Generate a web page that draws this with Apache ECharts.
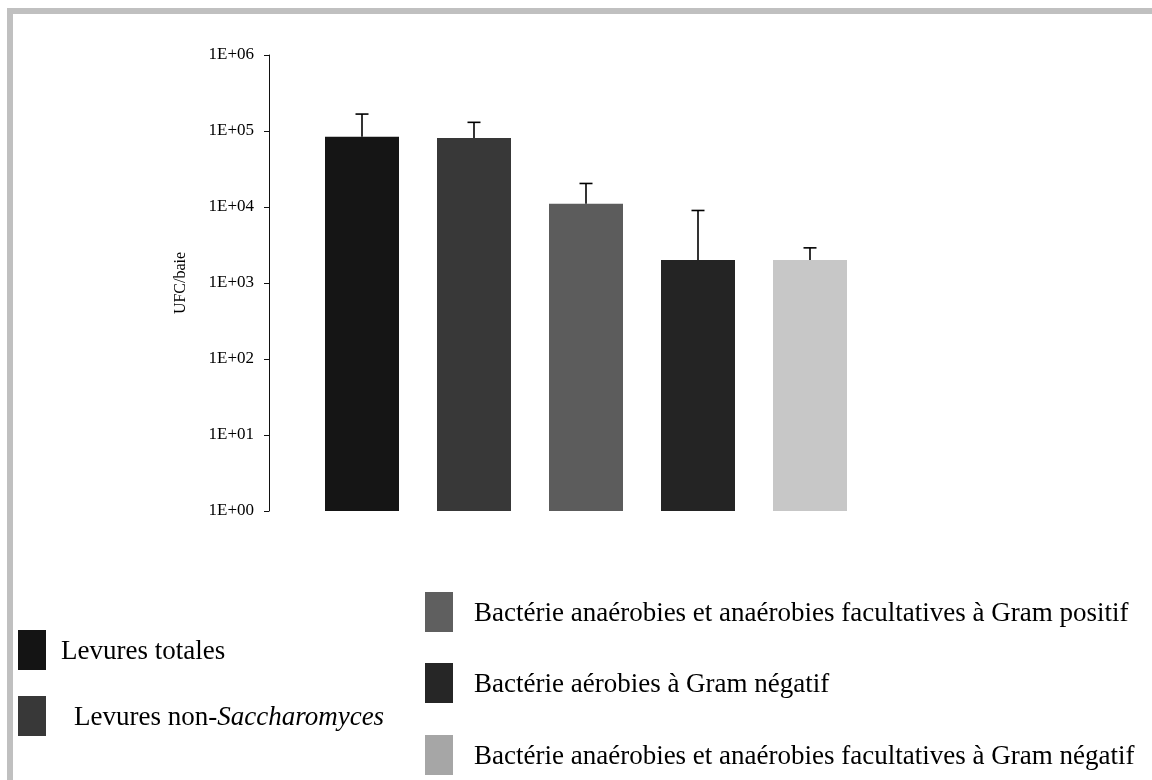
<!DOCTYPE html>
<html>
<head>
<meta charset="utf-8">
<script src="https://cdn.jsdelivr.net/npm/echarts@6/dist/echarts.min.js"></script>
<style>
  html, body { margin: 0; padding: 0; background: #fff; }
  #chart { width: 1152px; height: 780px; }
</style>
</head>
<body>
<div id="chart"></div>
<script>
// Microbial counts per berry (UFC/baie), log scale
const categories = [
  'Levures totales',
  'Levures non-Saccharomyces',
  'Bactérie anaérobies et anaérobies facultatives à Gram positif',
  'Bactérie aérobies à Gram négatif',
  'Bactérie anaérobies et anaérobies facultatives à Gram négatif'
];
const counts = [84000, 81000, 11000, 2000, 2000];
const errorPlus = [83000, 49000, 9400, 7000, 900];
const barColors = ['#151515', '#383838', '#5c5c5c', '#242424', '#c7c7c7'];
const legendColors = ['#141414', '#383838', '#5f5f5f', '#262626', '#a6a6a6'];
const yTickValues = [1, 10, 100, 1000, 10000, 100000, 1000000];
const yAxisTitle = 'UFC/baie';

const serif = "'Liberation Serif', 'Times New Roman', serif";

function sciLabel(v) {
  const e = Math.round(Math.log10(v));
  return '1E+' + String(e).padStart(2, '0');
}

// Legend entries laid out in two columns
const legendSlots = [
  { x: 18, y: 630, tx: 61 },
  { x: 18, y: 696, tx: 74 },
  { x: 425, y: 592, tx: 474 },
  { x: 425, y: 663, tx: 474 },
  { x: 425, y: 735, tx: 474 }
];

function legendText(name) {
  const m = name.match(/^(.*non-)(Saccharomyces)$/);
  if (m) return '{n|' + m[1] + '}{i|' + m[2] + '}';
  return '{n|' + name + '}';
}

const legendGraphics = [];
categories.forEach((name, i) => {
  const s = legendSlots[i];
  legendGraphics.push({
    type: 'rect',
    shape: { x: s.x, y: s.y, width: 28, height: 40 },
    style: { fill: legendColors[i] },
    silent: true
  });
  legendGraphics.push({
    type: 'text',
    x: s.tx,
    y: s.y + 22,
    style: {
      text: legendText(name),
      verticalAlign: 'middle',
      textAlign: 'left',
      fill: '#000',
      rich: {
        n: { fontFamily: serif, fontSize: 27, fill: '#000' },
        i: { fontFamily: serif, fontSize: 27, fontStyle: 'italic', fill: '#000' }
      }
    },
    silent: true
  });
});

const chart = echarts.init(document.getElementById('chart'), null, { renderer: 'canvas' });

chart.setOption({
  backgroundColor: '#ffffff',
  animation: false,
  grid: { left: 306, top: 55, width: 560, height: 456, containLabel: false },
  xAxis: {
    type: 'category',
    data: categories,
    show: false
  },
  yAxis: {
    type: 'log',
    logBase: 10,
    min: yTickValues[0],
    max: yTickValues[yTickValues.length - 1],
    offset: 37,
    name: yAxisTitle,
    nameLocation: 'middle',
    nameGap: 80,
    nameTextStyle: { fontFamily: serif, fontSize: 16, color: '#000' },
    axisLine: { show: true, lineStyle: { color: '#111', width: 1 } },
    axisTick: { show: true, inside: false, length: 5, lineStyle: { color: '#111' } },
    axisLabel: {
      margin: 15,
      fontFamily: serif,
      fontSize: 17,
      color: '#000',
      formatter: sciLabel
    },
    splitLine: { show: false }
  },
  series: [
    {
      type: 'bar',
      barWidth: 74,
      data: counts.map((v, i) => ({ value: v, itemStyle: { color: barColors[i] } })),
      z: 2
    },
    {
      // upper error bars (mean + standard deviation)
      type: 'custom',
      z: 3,
      data: counts.map((v, i) => [i, v, v + errorPlus[i]]),
      renderItem: function (params, api) {
        const base = api.coord([api.value(0), api.value(1)]);
        const top = api.coord([api.value(0), api.value(2)]);
        const half = 6.5;
        const st = { stroke: '#000', lineWidth: 1.6 };
        return {
          type: 'group',
          children: [
            { type: 'line', shape: { x1: base[0], y1: base[1], x2: top[0], y2: top[1] }, style: st },
            { type: 'line', shape: { x1: top[0] - half, y1: top[1], x2: top[0] + half, y2: top[1] }, style: st }
          ]
        };
      }
    }
  ],
  graphic: [
    // frame along the top and left edges
    { type: 'rect', shape: { x: 7, y: 8, width: 1145, height: 6 }, style: { fill: '#c0c0c0' }, silent: true },
    { type: 'rect', shape: { x: 7, y: 8, width: 6, height: 772 }, style: { fill: '#c0c0c0' }, silent: true }
  ].concat(legendGraphics)
});
</script>
</body>
</html>
